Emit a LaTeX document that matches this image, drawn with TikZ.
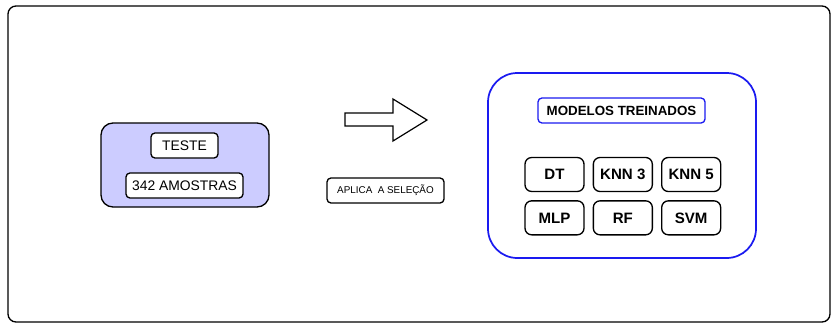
\documentclass[tikz,border=0pt]{standalone}
\usepackage{fontspec}
\setmainfont{Liberation Sans}
\usetikzlibrary{positioning,calc}
\definecolor{lavender}{HTML}{CCCCFF}
\definecolor{modelblue}{HTML}{1A1AF0}

\begin{document}
\begin{tikzpicture}[x=0.75pt,y=-0.75pt,
  frame/.style={draw=black,line width=1pt,rounded corners=6pt},
  setbox/.style={draw=black,fill=lavender,line width=1pt,rounded corners=9pt,
    minimum width=126pt,minimum height=63pt},
  label/.style={draw=black,fill=white,line width=1pt,rounded corners=3pt,
    minimum height=18.75pt,inner sep=2pt,font=\fontsize{10.4}{12}\selectfont},
  group/.style={draw=modelblue,line width=1.3pt,rounded corners=22pt,
    minimum width=201pt,minimum height=138.75pt},
  title/.style={draw=modelblue,line width=1pt,rounded corners=3pt,
    minimum width=125.25pt,minimum height=18.75pt,
    font=\fontsize{10}{12}\selectfont\bfseries},
  model/.style={draw=black,line width=1pt,rounded corners=5pt,
    minimum width=44.25pt,minimum height=25.5pt,inner sep=1pt,
    font=\fontsize{11.3}{13}\selectfont\bfseries}
]
\useasboundingbox (0,0) rectangle (838,325);
\draw[frame] (8,6) rectangle (830,322);

% test set
\node[setbox] (teste) at (185,165) {};
\node[label,minimum width=50.25pt] (nome) at (184.5,145.5) {TESTE};
\node[label,minimum width=87.75pt] (amostras) at (184.5,185.5) {342 AMOSTRAS};

% block arrow and its caption
\draw[line width=0.9pt,fill=white,line join=miter]
  (345,113) -- (393,113) -- (393,99) -- (427,120) -- (393,141)
  -- (393,126) -- (345,126) -- cycle;
\node[label,minimum width=87.75pt,font=\fontsize{7.4}{9}\selectfont]
  (aplica) at (385.5,190.5) {APLICA\ \ A SELEÇÃO};

% trained models
\node[group] (modelos) at (622,165.5) {};
\node[title] (titulo) at (621.5,110.5) {MODELOS TREINADOS};
\node[model] (dt) at (554.5,174.5) {DT};
\node[model,right=6pt of dt] (knn3) {KNN 3};
\node[model,right=6pt of knn3] (knn5) {KNN 5};
\node[model,below=6pt of dt] (mlp) {MLP};
\node[model,right=6pt of mlp] (rf) {RF};
\node[model,right=6pt of rf] (svm) {SVM};
\end{tikzpicture}
\end{document}
